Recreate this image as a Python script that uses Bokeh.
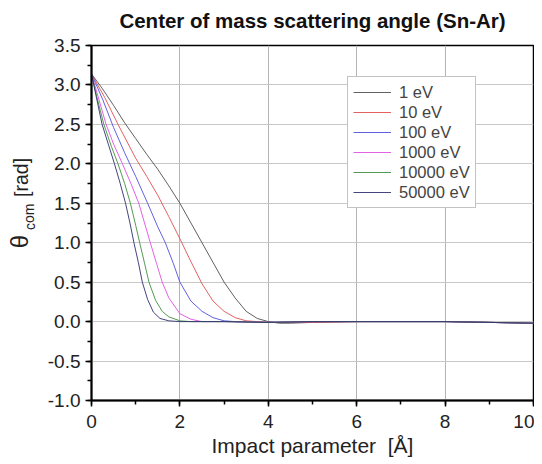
from bokeh.plotting import figure
from bokeh.layouts import row, column
from bokeh.models import Range1d, Legend, LegendItem, NumeralTickFormatter, SingleIntervalTicker
from bokeh.core.properties import value
from bokeh.embed import file_html
from bokeh.resources import INLINE

# Impact parameter [Å] and centre-of-mass scattering angle [rad]
x_1eV = [0, 0.25, 0.5, 0.75, 1.0, 1.25, 1.5, 1.75, 2.0, 2.25, 2.5, 2.75, 3.0, 3.25, 3.5, 3.75, 4.0, 4.25, 4.5, 5, 6, 7, 8, 9, 10]
y_1eV = [3.14, 2.95, 2.74, 2.52, 2.32, 2.12, 1.93, 1.72, 1.5, 1.25, 1.0, 0.75, 0.5, 0.3, 0.13, 0.04, 0.0, -0.02, -0.02, -0.01, 0.0, 0.0, 0.0, -0.01, -0.02]

x_10eV = [0, 0.3, 0.6, 1.0, 1.25, 1.5, 1.75, 2.0, 2.25, 2.5, 2.75, 3.0, 3.25, 3.5, 3.75, 4.0, 5, 6, 7, 8, 9, 10]
y_10eV = [3.14, 2.84, 2.5, 2.07, 1.84, 1.6, 1.33, 1.05, 0.76, 0.48, 0.26, 0.13, 0.05, 0.01, 0.0, -0.01, -0.01, 0.0, 0.0, 0.0, -0.01, -0.02]

x_100eV = [0, 0.25, 0.5, 0.75, 1.0, 1.27, 1.5, 1.67, 1.85, 2.0, 2.25, 2.5, 2.75, 3.0, 3.25, 4, 5, 6, 7, 8, 9, 10]
y_100eV = [3.14, 2.82, 2.46, 2.14, 1.84, 1.5, 1.2, 1.0, 0.74, 0.5, 0.26, 0.13, 0.05, 0.01, 0.0, -0.01, 0.0, 0.0, 0.0, 0.0, -0.01, -0.02]

x_1000eV = [0, 0.15, 0.33, 0.5, 0.7, 0.9, 1.07, 1.2, 1.33, 1.47, 1.6, 1.75, 2.0, 2.25, 2.5, 3, 4, 5, 6, 7, 8, 9, 10]
y_1000eV = [3.14, 2.85, 2.5, 2.25, 2.0, 1.74, 1.5, 1.25, 1.0, 0.74, 0.5, 0.3, 0.1, 0.03, 0.0, 0.0, -0.01, 0.0, 0.0, 0.0, 0.0, -0.01, -0.02]

x_10000eV = [0, 0.12, 0.28, 0.45, 0.6, 0.75, 0.88, 1.0, 1.09, 1.2, 1.3, 1.45, 1.6, 1.75, 2.0, 2.25, 3, 4, 5, 6, 7, 8, 9, 10]
y_10000eV = [3.14, 2.85, 2.5, 2.22, 2.0, 1.75, 1.5, 1.22, 1.0, 0.74, 0.5, 0.27, 0.13, 0.06, 0.01, 0.0, 0.0, -0.01, 0.0, 0.0, 0.0, 0.0, -0.01, -0.02]

x_50000eV = [0, 0.1, 0.24, 0.38, 0.52, 0.65, 0.77, 0.87, 0.96, 1.06, 1.15, 1.27, 1.4, 1.55, 1.75, 2.0, 3, 4, 5, 6, 7, 8, 9, 10]
y_50000eV = [3.14, 2.87, 2.5, 2.25, 2.0, 1.75, 1.5, 1.25, 1.0, 0.75, 0.5, 0.28, 0.12, 0.04, 0.01, 0.0, 0.0, -0.01, 0.0, 0.0, 0.0, 0.0, -0.01, -0.02]

labels = ["1 eV", "10 eV", "100 eV", "1000 eV", "10000 eV", "50000 eV"]
colors = ["#505050", "#e05050", "#5050e0", "#e050e0", "#409040", "#303070"]

title_text = "Center of mass scattering angle (Sn-Ar)"
# y-axis title pieces: θ, subscript "com", "[rad]"
ylabel_parts = ["θ", "com", "[rad]"]

series = [(x_1eV, y_1eV), (x_10eV, y_10eV), (x_100eV, y_100eV),
          (x_1000eV, y_1000eV), (x_10000eV, y_10000eV), (x_50000eV, y_50000eV)]

FONT = "Liberation Sans"
W = 534      # total width
TH = 33      # title strip height
H = 429      # main row height
LW = 40      # y-title strip width


def blank(width, height):
    f = figure(width=width, height=height, output_backend="svg", toolbar_location=None,
               x_range=Range1d(0, width), y_range=Range1d(0, height),
               x_axis_type=None, y_axis_type=None, min_border=0)
    f.outline_line_color = None
    return f


# title strip
t = blank(W, TH)
t.text(x=[312], y=[TH - 20], text=[title_text], text_align="center",
       text_baseline="middle", text_font=value(FONT), text_font_size="20.5px",
       text_font_style="bold", text_color="#111111")

# main plot
p = figure(width=W - LW, height=H, output_backend="svg", toolbar_location=None,
           x_range=Range1d(0, 10), y_range=Range1d(-1.0, 3.5),
           min_border_left=91 - LW, min_border_right=1, min_border_bottom=62,
           min_border_top=45 - TH)

items = []
for (xs, ys), lab, col in zip(series, labels, colors):
    r = p.line(xs, ys, line_color=col, line_width=1, line_alpha=0.9)
    items.append(LegendItem(label=lab, renderers=[r]))

legend = Legend(items=items, location=(256, 192))
legend.label_text_font = FONT
legend.label_text_font_size = "16.5px"
legend.glyph_width = 38
legend.glyph_height = 20
legend.label_height = 20
legend.spacing = 0
legend.padding = 5
legend.margin = 0
legend.label_standoff = 8
legend.border_line_color = "#888888"
legend.border_line_width = 1
legend.background_fill_alpha = 1.0
p.add_layout(legend)

p.xaxis.ticker = SingleIntervalTicker(interval=2, num_minor_ticks=2)
p.yaxis.ticker = SingleIntervalTicker(interval=0.5, num_minor_ticks=2)
p.yaxis.formatter = NumeralTickFormatter(format="0.0")

for ax in (p.xaxis, p.yaxis):
    ax.axis_line_color = "black"
    ax.axis_line_width = 2
    ax.major_tick_line_color = "black"
    ax.major_tick_line_width = 1.5
    ax.minor_tick_line_color = "black"
    ax.minor_tick_line_width = 1.5
    ax.major_tick_out = 6
    ax.major_tick_in = 0
    ax.minor_tick_out = 4
    ax.minor_tick_in = 0
    ax.major_label_text_font = FONT
    ax.major_label_text_font_size = "19px"
    ax.major_label_text_color = "#222222"
p.xaxis.major_label_standoff = 8
p.yaxis.major_label_standoff = 5

p.xaxis.axis_label = "Impact parameter\u00a0\u00a0[Å]"
p.xaxis.axis_label_text_font = FONT
p.xaxis.axis_label_text_font_size = "21px"
p.xaxis.axis_label_text_font_style = "normal"
p.xaxis.axis_label_text_color = "#222222"
p.xaxis.axis_label_standoff = 3

p.xgrid.grid_line_color = "#b4b4b4"
p.ygrid.grid_line_color = "#c8c8c8"
p.xgrid.grid_line_width = 1
p.ygrid.grid_line_width = 1

p.outline_line_color = "black"
p.outline_line_width = 1.5
p.outline_line_alpha = 1.0

# strip on the left holding the rotated y-axis title (y measured from page bottom)
B = TH + H
q = blank(LW, H)
q.text(x=[19], y=[B - 278], text=[ylabel_parts[0]], angle=1.5708,
       text_align="left", text_baseline="middle", text_font=value(FONT),
       text_font_size="24px", text_color="#222222")
q.text(x=[29], y=[B - 256], text=[ylabel_parts[1]], angle=1.5708,
       text_align="left", text_baseline="middle", text_font=value(FONT),
       text_font_size="14px", text_color="#222222")
q.text(x=[21], y=[B - 216], text=[ylabel_parts[2]], angle=1.5708,
       text_align="left", text_baseline="middle", text_font=value(FONT),
       text_font_size="19.5px", text_color="#222222")

layout = column(t, row(q, p, spacing=0), spacing=0)
open("out.html", "w").write(file_html(layout, INLINE))
